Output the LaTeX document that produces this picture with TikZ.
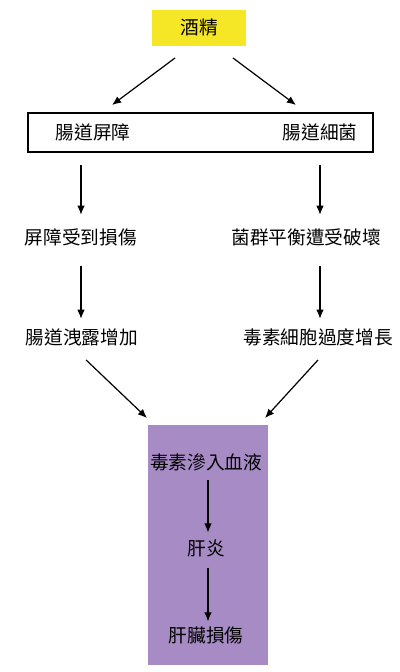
\documentclass[tikz,border=0pt]{standalone}
\usepackage{fontspec}
\newfontfamily\cjk{Noto Sans CJK TC}
\usepackage{xcolor}
\usetikzlibrary{arrows.meta}
\definecolor{alcyellow}{RGB}{246,231,38}
\definecolor{liverpurple}{RGB}{167,139,196}

\begin{document}
\begin{tikzpicture}[
    x=0.75pt, y=-0.75pt,
    font=\cjk\fontsize{14}{16}\selectfont,
    lbl/.style={inner sep=3pt},
    box/.style={inner sep=0pt, outer sep=0pt},
    arrow/.style={-{Latex[length=2.4mm,width=2mm]}, line width=0.9pt}
]
\useasboundingbox (0,0) rectangle (400,672);

% --- cause ---
\node[box, fill=alcyellow, minimum width=70.5pt, minimum height=27pt] (alcohol) at (199,28) {酒精};

% --- gut: barrier and bacteria ---
\node[box, draw, line width=0.9pt, minimum width=258.75pt, minimum height=29.25pt] (gut) at (200.5,132.5) {};
\node[lbl] (barrier) at (93,132) {腸道屏障};
\node[lbl] (bacteria) at (320,132) {腸道細菌};

% --- two branches ---
\node[lbl] (damage) at (81,237) {屏障受到損傷};
\node[lbl] (imbalance) at (306,237) {菌群平衡遭受破壞};
\node[lbl] (leak) at (82,337) {腸道洩露增加};
\node[lbl] (overgrowth) at (318,337) {毒素細胞過度增長};

% --- liver ---
\node[box, fill=liverpurple, minimum width=90pt, minimum height=180pt] (liver) at (208,545) {};
\node[lbl] (toxin) at (206,462) {毒素滲入血液};
\node[lbl] (hepatitis) at (206,548) {肝炎};
\node[lbl] (injury) at (206,635) {肝臟損傷};

% arrows
\draw[arrow] ([shift={(23,12)}]alcohol.south west) -- ([shift={(84,-8)}]gut.north west);
\draw[arrow] ([shift={(-13,12)}]alcohol.south east) -- ([shift={(-77,-8)}]gut.north east);
\draw[arrow, shorten <=9.75pt, shorten >=7pt] (gut.south -| damage) -- (damage.north);
\draw[arrow, shorten <=9.75pt, shorten >=7pt] (gut.south -| bacteria) -- (bacteria |- imbalance.north);
\draw[arrow, shorten <=12pt, shorten >=4pt] (damage.south) -- (damage.south |- leak.north);
\draw[arrow, shorten <=12pt, shorten >=4pt] (bacteria |- imbalance.south) -- (bacteria |- overgrowth.north);
\draw[arrow] ([shift={(4,10)}]leak.south) -- ([shift={(-1,-7)}]liver.north west);
\draw[arrow] ([shift={(0,10)}]overgrowth.south) -- ([shift={(-3,-7)}]liver.north east);
\draw[arrow, shorten <=4pt, shorten >=2pt] (liver.center |- toxin.south) -- (liver.center |- hepatitis.north);
\draw[arrow, shorten <=5pt, shorten >=0.5pt] (liver.center |- hepatitis.south) -- (liver.center |- injury.north);

\end{tikzpicture}
\end{document}
